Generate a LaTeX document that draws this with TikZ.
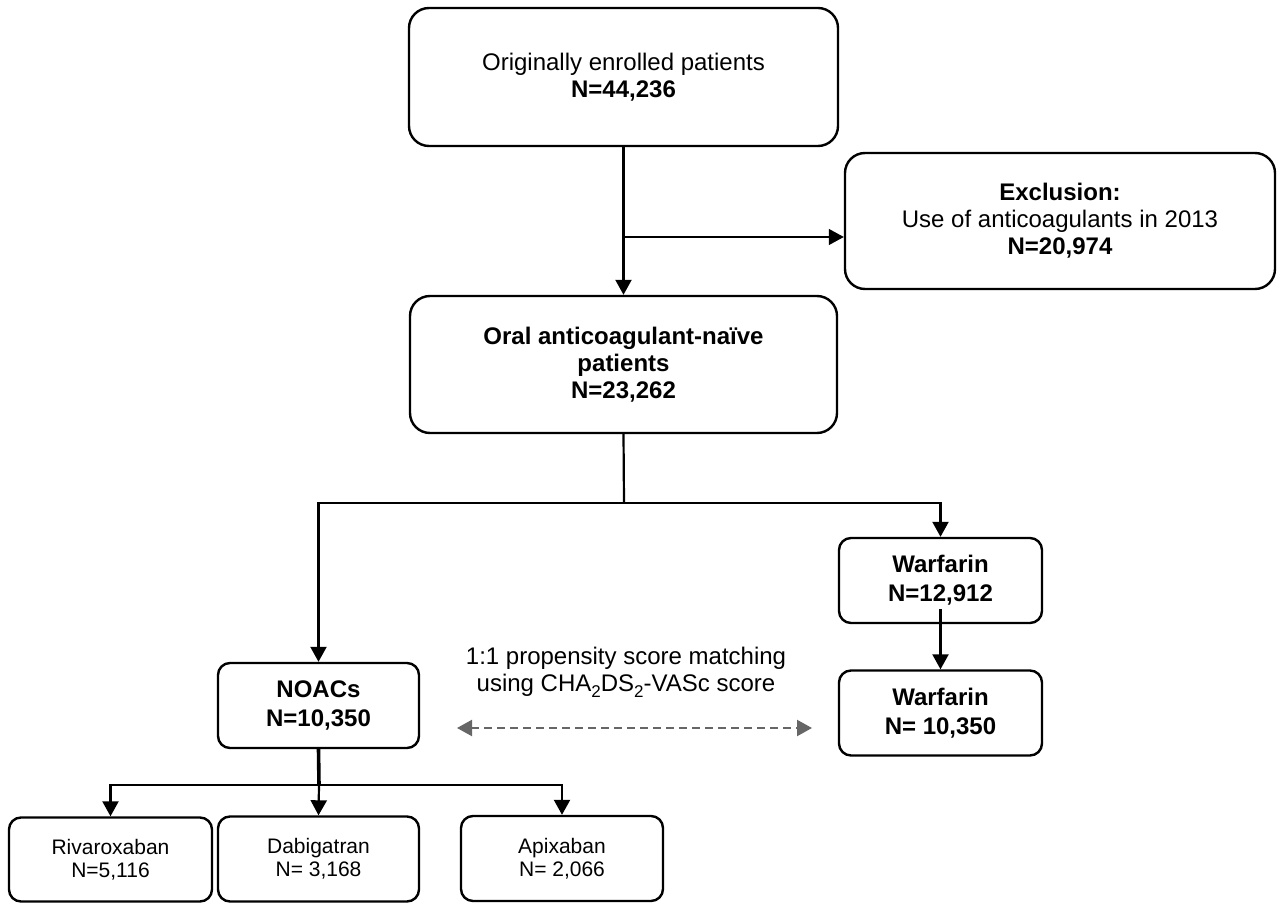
\documentclass[tikz,border=0pt]{standalone}
\usepackage{fontspec}
\setmainfont{Liberation Sans}
\usetikzlibrary{arrows.meta}
\definecolor{dashgray}{HTML}{666666}
\newcommand{\lowsub}[1]{\raisebox{-0.45ex}{\fontsize{8.5}{8.5}\selectfont #1}}
\begin{document}
\begin{tikzpicture}[x=0.5pt,y=-0.5pt,
  box/.style={draw, line width=1.2pt, rounded corners=#1, align=center, inner sep=0pt},
  box/.default=6pt,
  bigtext/.style={font=\fontsize{12}{13.5}\selectfont},
  midtext/.style={font=\fontsize{12}{14.5}\selectfont},
  smalltext/.style={font=\fontsize{10.5}{11.5}\selectfont},
  arr/.style={line width=1.1pt, -{Triangle[length=7.5pt,width=8pt]}},
  thinarr/.style={line width=0.6pt, -{Triangle[length=7.5pt,width=8pt]}},
  conn/.style={line width=1.1pt},
  matcharr/.style={dashgray, line width=1.1pt, dash pattern=on 4pt off 2.5pt,
    {Triangle[length=7.5pt,width=8pt]}-{Triangle[length=7.5pt,width=8pt]}}
]
\useasboundingbox (0,0) rectangle (1279,903);

% boxes
\node[box=10pt, bigtext, minimum width=214.5pt, minimum height=69pt] (top) at (623.5,77)
  {Originally enrolled patients\\\textbf{N=44,236}};
\node[box=10pt, bigtext, minimum width=215pt, minimum height=68pt] (exc) at (1060,221)
  {\textbf{Exclusion:}\\Use of anticoagulants in 2013\\\textbf{N=20,974}};
\node[box=10pt, bigtext, minimum width=213.5pt, minimum height=68.5pt] (oral) at (623.5,364.5)
  {\textbf{Oral anticoagulant-naïve}\\\textbf{patients}\\\textbf{N=23,262}};
\node[box, midtext, minimum width=100.5pt, minimum height=42.5pt] (noac) at (318.5,705.5)
  {\textbf{NOACs}\\\textbf{N=10,350}};
\node[box, midtext, minimum width=101.5pt, minimum height=42.5pt] (w1) at (940.5,580.5)
  {\textbf{Warfarin}\\\textbf{N=12,912}};
\node[box, midtext, minimum width=101.5pt, minimum height=42.5pt] (w2) at (940.5,713)
  {\textbf{Warfarin}\\\textbf{N= 10,350}};
\node[box, smalltext, minimum width=101.5pt, minimum height=42pt] (riv) at (110.5,859.5)
  {Rivaroxaban\\N=5,116};
\node[box, smalltext, minimum width=100.5pt, minimum height=42.5pt] (dab) at (318.5,859)
  {Dabigatran\\N= 3,168};
\node[box, smalltext, minimum width=101pt, minimum height=42.5pt] (api) at (562,858.5)
  {Apixaban\\N= 2,066};

% label
\node[bigtext, align=center, inner sep=0pt] (match) at (626,672)
  {1:1 propensity score matching\\using CHA\lowsub{2}DS\lowsub{2}-VASc score};

% coordinates
\coordinate (ex1) at (624,237);
\coordinate (b1) at (624,503);
\coordinate (b2) at (319,785);
\coordinate (dl) at (457,728);
\coordinate (dr) at (812,728);

% connectors
\draw[arr] (top.south) -- (oral.north);
\draw[thinarr] (ex1) -- (ex1 -| exc.west);
\draw[conn] (oral.south) -- (b1);
\draw[arr] (b1) -| (noac.north);
\draw[arr] (b1) -| (w1.north);
\draw[arr] ([yshift=7.5pt]w1.south) -- (w2.north);
\draw[line width=1.8pt] (noac.south) -- (b2);
\draw[arr] (b2) -| (riv.north);
\draw[arr] (b2) -- (dab.north);
\draw[arr] (b2) -| (api.north);
\draw[matcharr] (dl) -- (dr);
\end{tikzpicture}
\end{document}
